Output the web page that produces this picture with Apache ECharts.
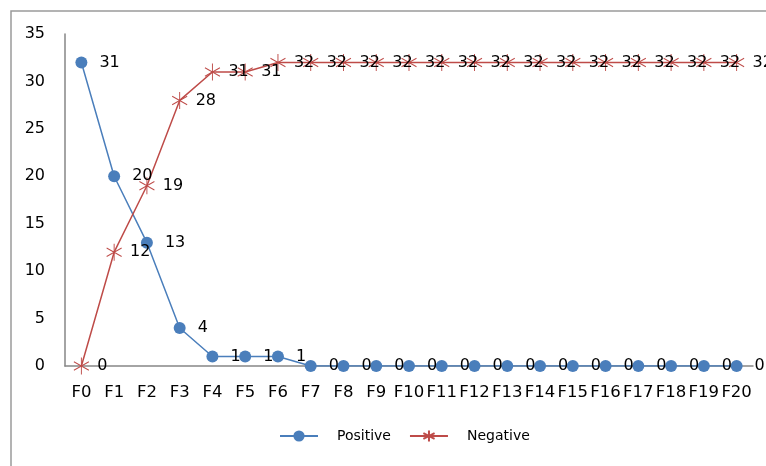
<!DOCTYPE html>
<html><head><meta charset="utf-8">
<script src="https://cdn.jsdelivr.net/npm/echarts@6/dist/echarts.min.js"></script>
<style>html,body{margin:0;padding:0;background:#fff}#c{width:766px;height:466px}</style>
</head><body><div id="c"></div>
<script>
var categories = ['F0','F1','F2','F3','F4','F5','F6','F7','F8','F9','F10','F11','F12','F13','F14','F15','F16','F17','F18','F19','F20'];
var positive = [32,20,13,4,1,1,1,0,0,0,0,0,0,0,0,0,0,0,0,0,0];
var positiveLabels = ['31','20','13','4','1','1','1','0','0','0','0','0','0','0','0','0','0','0','0','0','0'];
var negative = [0,12,19,28,31,31,32,32,32,32,32,32,32,32,32,32,32,32,32,32,32];
var negativeLabels = ['0','12','19','28','31','31','32','32','32','32','32','32','32','32','32','32','32','32','32','32','32'];
var yTicks = {min:0, max:35, interval:5};

var FONT = 'DejaVu Sans';
var chart = echarts.init(document.getElementById('c'), null, {renderer:'canvas'});
var star = 'path://M0,-8L0,8M-7,-4L7,4M-7,4L7,-4';
chart.setOption({
  animation:false,
  graphic:[{type:'rect', shape:{x:11,y:11,width:900,height:600}, style:{fill:'none', stroke:'#9a9a9a', lineWidth:1.5}, silent:true}],
  grid:{left:65, right:13, top:34, bottom:100},
  legend:{
    bottom:18, left:274, itemWidth:38, itemHeight:14, itemGap:18,
    textStyle:{fontFamily:FONT, fontSize:14, color:'#000', padding:[0,0,0,14]},
    data:['Positive','Negative']
  },
  xAxis:{
    type:'category', data:categories, boundaryGap:true,
    axisLine:{lineStyle:{color:'#868686', width:1.5}}, axisTick:{show:false},
    axisLabel:{color:'#000', fontFamily:FONT, fontSize:16.5, margin:18, interval:0}
  },
  yAxis:{
    type:'value', min:yTicks.min, max:yTicks.max, interval:yTicks.interval,
    axisLine:{show:true, lineStyle:{color:'#868686', width:1.5}}, axisTick:{show:false},
    splitLine:{show:false},
    axisLabel:{color:'#000', fontFamily:FONT, fontSize:16, margin:20}
  },
  series:[
    {name:'Positive', type:'line', data:positive, symbol:'circle', symbolSize:12,
     lineStyle:{color:'#4a7ebb', width:1.5}, itemStyle:{color:'#4a7ebb'},
     label:{show:true, position:'right', distance:12, color:'#000', fontFamily:FONT, fontSize:16,
       formatter:function(p){return positiveLabels[p.dataIndex];}}},
    {name:'Negative', type:'line', data:negative, symbol:star, symbolSize:[15,17],
     lineStyle:{color:'#be4b48', width:1.5},
     itemStyle:{color:'#be4b48', borderColor:'#be4b48', borderWidth:1},
     label:{show:true, position:'right', distance:8, color:'#000', fontFamily:FONT, fontSize:16,
       formatter:function(p){return negativeLabels[p.dataIndex];}}}
  ]
});
</script></body></html>
